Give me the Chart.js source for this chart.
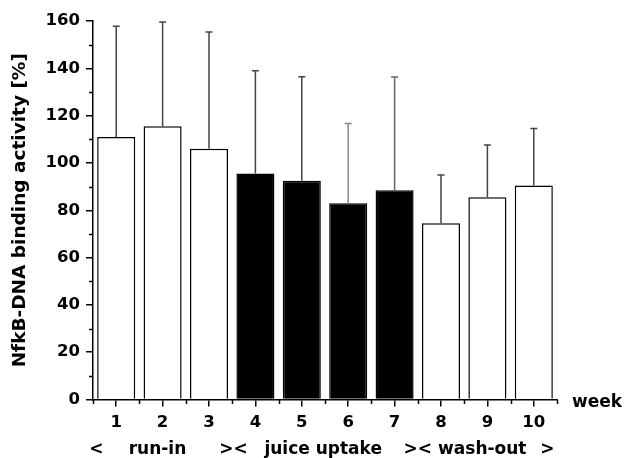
<!DOCTYPE html>
<html>
<head>
<meta charset="utf-8">
<script src="https://cdn.jsdelivr.net/npm/chart.js@4.4.1/dist/chart.umd.min.js"></script>
<style>
  html, body { margin: 0; padding: 0; background: #fff; }
  #wrap { width: 626px; height: 458px; }
</style>
</head>
<body>
<div id="wrap"><canvas id="c" width="626" height="458"></canvas></div>
<script>
// ---- data ----
const weeks = ['1', '2', '3', '4', '5', '6', '7', '8', '9', '10'];
const meanActivity = [111, 115.5, 106, 95.5, 92.5, 83, 88.5, 74.5, 85.5, 90.5];
const sdActivity = [46.8, 44.1, 49.3, 43.5, 43.9, 33.7, 47.8, 20.4, 22.1, 24.1];
const phase = ['run-in', 'run-in', 'run-in', 'juice', 'juice', 'juice', 'juice', 'wash-out', 'wash-out', 'wash-out'];
const yTicks = [0, 20, 40, 60, 80, 100, 120, 140, 160];

const FONT = '"DejaVu Sans", sans-serif';

const errorBars = {
  id: 'errorBars',
  afterDatasetsDraw(chart) {
    const ctx = chart.ctx;
    const meta = chart.getDatasetMeta(0);
    const ys = chart.scales.y;
    ctx.save();
    ctx.lineWidth = 1.5;
    meta.data.forEach((bar, i) => {
      const x = bar.x;
      const yTop = ys.getPixelForValue(meanActivity[i] + sdActivity[i]);
      const yBase = ys.getPixelForValue(meanActivity[i]);
      ctx.strokeStyle = i === 5 ? '#8a8a8a' : (i === 6 ? '#666' : '#444');
      ctx.beginPath();
      ctx.moveTo(x, yBase);
      ctx.lineTo(x, yTop);
      ctx.moveTo(x - 3.5, yTop);
      ctx.lineTo(x + 3.5, yTop);
      ctx.stroke();
    });
    ctx.restore();
  }
};

const extras = {
  id: 'extras',
  afterDraw(chart) {
    const ctx = chart.ctx;
    const xs = chart.scales.x;
    const ys = chart.scales.y;
    const area = chart.chartArea;
    ctx.save();
    ctx.strokeStyle = '#000';
    ctx.lineWidth = 1.5;
    // minor y ticks
    for (let v = 10; v < 160; v += 20) {
      const py = Math.round(ys.getPixelForValue(v)) + 0.5;
      ctx.beginPath();
      ctx.moveTo(area.left - 4, py);
      ctx.lineTo(area.left, py);
      ctx.stroke();
    }
    // minor x ticks at category boundaries
    for (let i = -0.5; i <= weeks.length - 0.5; i += 1) {
      const px = Math.round(xs.getPixelForValue(i)) + 0.5;
      ctx.beginPath();
      ctx.moveTo(px, area.bottom);
      ctx.lineTo(px, area.bottom + 4.5);
      ctx.stroke();
    }
    // texts
    ctx.fillStyle = '#000';
    ctx.font = 'bold 17px ' + FONT;
    ctx.textBaseline = 'middle';
    ctx.textAlign = 'left';
    ctx.fillText('week', area.right + 15, area.bottom + 3.5);
    ctx.textAlign = 'center';
    const row = [
      ['<', -0.43], ['run-in', 0.89], ['><', 2.53], ['juice uptake', 4.46],
      ['><', 6.5], ['wash-out', 7.89], ['>', 9.29]
    ];
    const yRow = area.bottom + 50.5;
    row.forEach(([t, pos]) => ctx.fillText(t, xs.getPixelForValue(pos), yRow));
    ctx.restore();
  }
};

new Chart(document.getElementById('c'), {
  type: 'bar',
  data: {
    labels: weeks,
    datasets: [{
      data: meanActivity,
      backgroundColor: phase.map(p => p === 'juice' ? '#000' : '#fff'),
      borderColor: '#000',
      borderWidth: 1.5,
      borderSkipped: 'bottom',
      barPercentage: 0.82,
      categoryPercentage: 1.0
    }]
  },
  options: {
    responsive: false,
    animation: false,
    devicePixelRatio: 1,
    layout: { padding: { top: 21, right: 69, bottom: 0, left: 0 } },
    plugins: { legend: { display: false }, tooltip: { enabled: false } },
    scales: {
      x: {
        offset: true,
        afterFit(s) { s.height = 58.5; },
        grid: { display: true, drawOnChartArea: false, drawTicks: true, offset: false, tickLength: 7, color: '#000', lineWidth: 1.5 },
        border: { display: true, color: '#000', width: 1.5 },
        ticks: { color: '#000', font: { family: FONT, size: 16.5, weight: 'bold' }, padding: 6, maxRotation: 0, autoSkip: false },
      },
      y: {
        min: 0, max: 160,
        afterFit(s) { s.width = 93; },
        afterBuildTicks(s) { s.ticks = yTicks.map(v => ({ value: v })); },
        grid: { display: true, drawOnChartArea: false, drawTicks: true, tickLength: 7, color: '#000', lineWidth: 1.5 },
        border: { display: true, color: '#000', width: 1.5 },
        ticks: { color: '#000', font: { family: FONT, size: 16.5, weight: 'bold' }, padding: 6 },
        title: { display: true, text: 'NfkB-DNA binding activity [%]', color: '#000', font: { family: FONT, size: 18.5, weight: 'bold' }, padding: { top: 9, bottom: 0 } }
      }
    }
  },
  plugins: [errorBars, extras]
});
</script>
</body>
</html>
